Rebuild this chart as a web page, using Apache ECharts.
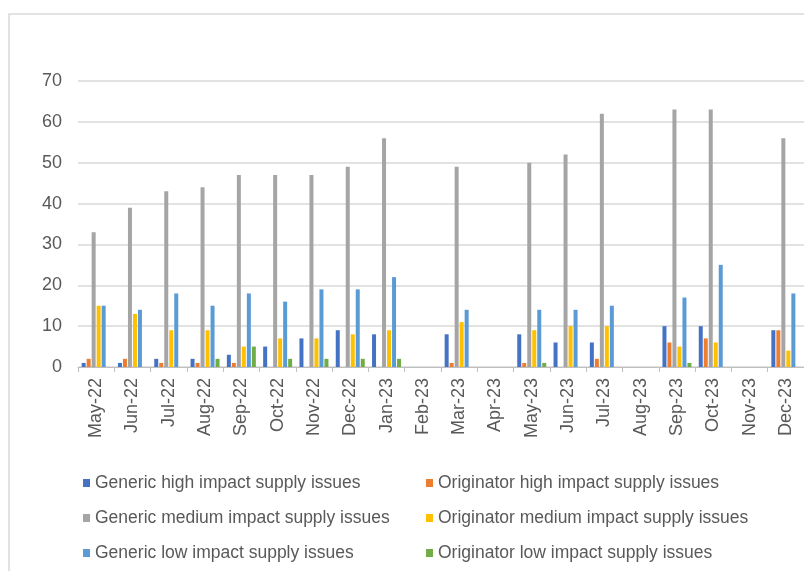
<!DOCTYPE html>
<html>
<head>
<meta charset="utf-8">
<script src="https://cdn.jsdelivr.net/npm/echarts@6/dist/echarts.min.js"></script>
<style>
  html, body { margin: 0; padding: 0; background: #fff; }
  #chart { width: 804px; height: 571px; }
</style>
</head>
<body>
<div id="chart"></div>
<script>
const months = ['May-22', 'Jun-22', 'Jul-22', 'Aug-22', 'Sep-22', 'Oct-22', 'Nov-22', 'Dec-22', 'Jan-23', 'Feb-23',
  'Mar-23', 'Apr-23', 'May-23', 'Jun-23', 'Jul-23', 'Aug-23', 'Sep-23', 'Oct-23', 'Nov-23', 'Dec-23'];

const genericHigh      = [1, 1, 2, 2, 3, 5, 7, 9, 8, 0, 8, 0, 8, 6, 6, 0, 10, 10, 0, 9];
const originatorHigh   = [2, 2, 1, 1, 1, 0, 0, 0, 0, 0, 1, 0, 1, 0, 2, 0, 6, 7, 0, 9];
const genericMedium    = [33, 39, 43, 44, 47, 47, 47, 49, 56, 0, 49, 0, 50, 52, 62, 0, 63, 63, 0, 56];
const originatorMedium = [15, 13, 9, 9, 5, 7, 7, 8, 9, 0, 11, 0, 9, 10, 10, 0, 5, 6, 0, 4];
const genericLow       = [15, 14, 18, 15, 18, 16, 19, 19, 22, 0, 14, 0, 14, 14, 15, 0, 17, 25, 0, 18];
const originatorLow    = [0, 0, 0, 2, 5, 2, 2, 2, 2, 0, 0, 0, 1, 0, 0, 0, 1, 0, 0, 0];

const seriesNames = [
  'Generic high impact supply issues',
  'Originator high impact supply issues',
  'Generic medium impact supply issues',
  'Originator medium impact supply issues',
  'Generic low impact supply issues',
  'Originator low impact supply issues'
];
const seriesData = [genericHigh, originatorHigh, genericMedium, originatorMedium, genericLow, originatorLow];
const colors = ['#4472C4', '#ED7D31', '#A5A5A5', '#FFC000', '#5B9BD5', '#70AD47'];

const font = 'Liberation Sans';
const textColor = '#595959';

const chart = echarts.init(document.getElementById('chart'));

const legendText = { color: textColor, fontSize: 17.5, fontFamily: font };

const option = {
  animation: false,
  color: colors,
  graphic: [{
    type: 'rect',
    shape: { x: 9, y: 14, width: 900, height: 700 },
    style: { fill: 'none', stroke: '#d9d9d9', lineWidth: 1.5 },
    silent: true
  }],
  legend: [
    {
      orient: 'vertical', left: 78, top: 469, itemGap: 17,
      itemWidth: 7, itemHeight: 8, icon: 'rect',
      textStyle: legendText,
      data: [seriesNames[0], seriesNames[2], seriesNames[4]]
    },
    {
      orient: 'vertical', left: 421, top: 469, itemGap: 17,
      itemWidth: 7, itemHeight: 8, icon: 'rect',
      textStyle: legendText,
      data: [seriesNames[1], seriesNames[3], seriesNames[5]]
    }
  ],
  grid: { left: 78, top: 81, width: 731, bottom: 204 },
  xAxis: {
    type: 'category',
    data: months,
    axisLine: { lineStyle: { color: '#bfbfbf', width: 1 } },
    axisTick: { show: true, length: 5, lineStyle: { color: '#bfbfbf' } },
    axisLabel: {
      interval: 0, rotate: 90, margin: 11,
      color: textColor, fontSize: 18, fontFamily: font
    }
  },
  yAxis: {
    type: 'value',
    min: 0, max: 70, interval: 10,
    axisLine: { show: false },
    axisTick: { show: false },
    axisLabel: { color: textColor, fontSize: 18, fontFamily: font, margin: 16 },
    splitLine: { lineStyle: { color: '#d9d9d9', width: 1.5 } }
  },
  series: seriesNames.map((name, i) => ({
    name: name,
    type: 'bar',
    data: seriesData[i],
    barWidth: 4,
    barGap: '25%',
    itemStyle: { color: colors[i] }
  }))
};

chart.setOption(option);
</script>
</body>
</html>
